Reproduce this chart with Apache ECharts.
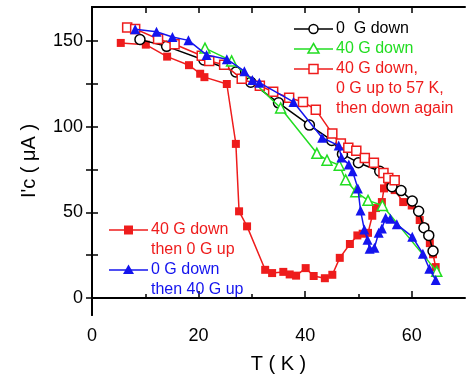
<!DOCTYPE html>
<html>
<head>
<meta charset="utf-8">
<script src="https://cdn.jsdelivr.net/npm/echarts@6/dist/echarts.min.js"></script>
<style>
html,body{margin:0;padding:0;background:#fff;}
#chart{width:466px;height:381px;}
</style>
</head>
<body>
<div id="chart"></div>
<script>
// ---- data ----
const xLabelValues = [0, 20, 40, 60];
const xMinorTicks = [10, 30, 50];
const xTopTicks = [10, 20, 30, 40, 50, 60];
const yLabelValues = [0, 50, 100, 150];
const yTickValues = [0, 25, 50, 75, 100, 125, 150];

const seriesNames = ['0  G down', '40 G down', '40 G down,', '40 G down', '0 G down'];

const zeroGDown = [
  [9, 151], [14, 147], [21, 139], [27, 132], [29.8, 126], [35, 114], [40.8, 101],
  [45, 92], [47, 84], [50, 79], [54, 74], [56.3, 65], [58, 62.7], [60.1, 56.6],
  [61.3, 50.6], [62.3, 41], [63.2, 36.5], [64, 27.4]
];
const fortyGDown = [
  [21.2, 146], [26.2, 138.5], [35.4, 111], [42.2, 84.5], [44.1, 80.5], [46.4, 77.5],
  [47.6, 69], [49.5, 62], [51.8, 57], [54.5, 54], [64.7, 15.5]
];
const fortyGDownUpDown = [
  [6.6, 158], [8.1, 157.2], [12.4, 151.3], [15.5, 148.2], [20.6, 141.5], [22, 138.4],
  [24.8, 136.3], [28.1, 128], [31.5, 124], [34, 120.5], [37, 117], [39.6, 114.5],
  [42, 110], [45.1, 96], [46.7, 90.2], [48.1, 87.8], [49.6, 86], [51.2, 81.8],
  [52.9, 79], [54.7, 73], [55.6, 70], [56.8, 68.7]
];
const fortyGDownZeroUp = [
  [5.4, 149], [10.1, 148], [14.1, 141], [18.2, 136], [20.3, 131], [21.1, 129],
  [25.3, 125], [27, 90], [27.6, 50.6], [29.1, 41.8], [32.5, 16.4], [33.8, 14.5],
  [35.9, 15.2], [37.1, 13.7], [38.3, 13], [40.1, 17.4], [41.6, 12.8], [43.7, 11.5],
  [45.1, 13.5], [46.5, 23.4], [48.4, 31.5], [49.8, 36.5], [50.8, 37.5], [51.8, 38],
  [52.6, 48], [53.3, 52.5], [54.4, 56], [54.8, 64], [55.6, 68], [56.8, 63],
  [58.4, 56], [60, 54], [61.5, 45.5], [62.5, 41], [63.4, 32], [64, 25.5], [64.5, 18]
];
const zeroGDownFortyUp = [
  [8.1, 157], [12.1, 155.5], [15.1, 152.5], [18.1, 150.5], [21.5, 142], [25.3, 139.5],
  [28.6, 132.5], [30.1, 127.3], [31.4, 125.8], [37.8, 114.5], [43.2, 93.6], [46.3, 89],
  [46.8, 82], [48.2, 78], [48.9, 74], [49.9, 64], [50.4, 51], [51.1, 40], [51.7, 34],
  [52.1, 28.7], [53, 29.3], [53.8, 38], [54.4, 40.6], [55.1, 46.8], [56, 46.3],
  [57.2, 43], [60.1, 35.8], [62.1, 25.8], [63.3, 17], [64.5, 10.5]
];

const BLACK = '#000000', GREEN = '#22dd22', RED = '#ee1c1c', BLUE = '#1414ee';
const FONT = '"Liberation Sans", Arial, sans-serif';

function lineSeries(name, data, color, symbol, size, filled, z) {
  return {
    type: 'line', name: name, data: data, z: z,
    xAxisIndex: 0, yAxisIndex: 0,
    symbol: symbol, symbolSize: size, showAllSymbol: true,
    lineStyle: { color: color, width: 1.5 },
    itemStyle: filled ? { color: color, borderWidth: 0 } : { color: '#ffffff', borderColor: color, borderWidth: 1.5 },
    emphasis: { disabled: true },
    animation: false
  };
}

const chart = echarts.init(document.getElementById('chart'), null, { renderer: 'canvas' });

// legend graphic helper
function legendItem(x0, y, color, symbol, filled, lines) {
  const els = [];
  els.push({ type: 'line', shape: { x1: x0, y1: y, x2: x0 + 39, y2: y }, style: { stroke: color, lineWidth: 1.5 }, z: 100 });
  const cx = x0 + 19.5;
  const fill = filled ? color : '#ffffff';
  if (symbol === 'circle') {
    els.push({ type: 'circle', shape: { cx: cx, cy: y, r: 4.5 }, style: { fill: fill, stroke: color, lineWidth: 1.5 }, z: 101 });
  } else if (symbol === 'rect') {
    els.push({ type: 'rect', shape: { x: cx - 4.5, y: y - 4.5, width: 9, height: 9 }, style: { fill: fill, stroke: filled ? null : color, lineWidth: 1.5 }, z: 101 });
  } else {
    els.push({ type: 'polygon', shape: { points: [[cx, y - 5.5], [cx + 5.5, y + 4], [cx - 5.5, y + 4]] }, style: { fill: fill, stroke: filled ? null : color, lineWidth: 1.5 }, z: 101 });
  }
  lines.forEach(function (t, i) {
    els.push({ type: 'text', x: x0 + 42, y: y + i * 19.8, style: { text: t, fill: color, font: '16px ' + FONT, textVerticalAlign: 'middle', verticalAlign: 'middle' }, z: 101 });
  });
  return els;
}

let graphics = [];
graphics = graphics.concat(legendItem(294, 29, BLACK, 'circle', false, ['0  G down']));
graphics = graphics.concat(legendItem(294, 49, GREEN, 'triangle', false, ['40 G down']));
graphics = graphics.concat(legendItem(294, 69, RED, 'rect', false, ['40 G down,', '0 G up to 57 K,', 'then down again']));
graphics = graphics.concat(legendItem(109, 230, RED, 'rect', true, ['40 G down', 'then 0 G up']));
graphics = graphics.concat(legendItem(109, 270, BLUE, 'triangle', true, ['0 G down', 'then 40 G up']));

const axisLineStyle = { color: '#000', width: 2 };

const option = {
  animation: false,
  backgroundColor: '#ffffff',
  grid: { left: 92, right: 1, top: 7, bottom: 66, containLabel: false },
  xAxis: [
    {
      type: 'value', position: 'bottom', min: 0, max: 70,
      axisLine: { show: true, lineStyle: axisLineStyle },
      axisTick: { show: true, inside: true, length: 7, customValues: xLabelValues, lineStyle: { color: '#000', width: 1.5 } },
      axisLabel: { customValues: xLabelValues, fontSize: 18, color: '#000', margin: 12, fontFamily: FONT },
      splitLine: { show: false },
      name: 'T ( K )', nameLocation: 'middle', nameGap: 39,
      nameTextStyle: { fontSize: 20, color: '#000', fontFamily: FONT }
    },
    {
      type: 'value', position: 'bottom', min: 0, max: 70,
      axisLine: { show: false },
      axisTick: { show: true, inside: true, length: 4, customValues: xMinorTicks, lineStyle: { color: '#000', width: 1.5 } },
      axisLabel: { show: false },
      splitLine: { show: false }
    },
    {
      type: 'value', position: 'top', min: 0, max: 70,
      axisLine: { show: true, lineStyle: axisLineStyle },
      axisTick: { show: true, inside: true, length: 6, customValues: xTopTicks, lineStyle: { color: '#000', width: 1.5 } },
      axisLabel: { show: false },
      splitLine: { show: false }
    }
  ],
  yAxis: [
    {
      type: 'value', position: 'left', min: -10, max: 170,
      axisLine: { show: true, lineStyle: axisLineStyle },
      axisTick: { show: true, inside: true, length: 6, customValues: yTickValues, lineStyle: { color: '#000', width: 1.5 } },
      axisLabel: { customValues: yLabelValues, fontSize: 18, color: '#000', margin: 9, fontFamily: FONT },
      splitLine: { show: false },
      name: "I'c ( μA )", nameLocation: 'middle', nameGap: 53, nameRotate: 90,
      nameTextStyle: { fontSize: 20, color: '#000', fontFamily: FONT }
    },
    {
      type: 'value', position: 'right', min: -10, max: 170,
      axisLine: { show: true, lineStyle: axisLineStyle },
      axisTick: { show: true, inside: true, length: 6, customValues: yTickValues, lineStyle: { color: '#000', width: 1.5 } },
      axisLabel: { show: false },
      splitLine: { show: false }
    }
  ],
  series: [
    lineSeries('40 G down then 0 G up', fortyGDownZeroUp, RED, 'rect', 8, true, 2),
    lineSeries('0  G down', zeroGDown, BLACK, 'circle', 10, false, 3),
    lineSeries('40 G down, 0 G up to 57 K, then down again', fortyGDownUpDown, RED, 'rect', 9, false, 4),
    lineSeries('40 G down', fortyGDown, GREEN, 'triangle', 10, false, 5),
    lineSeries('0 G down then 40 G up', zeroGDownFortyUp, BLUE, 'triangle', 10, true, 6)
  ],
  graphic: graphics
};
chart.setOption(option);
</script>
</body>
</html>
